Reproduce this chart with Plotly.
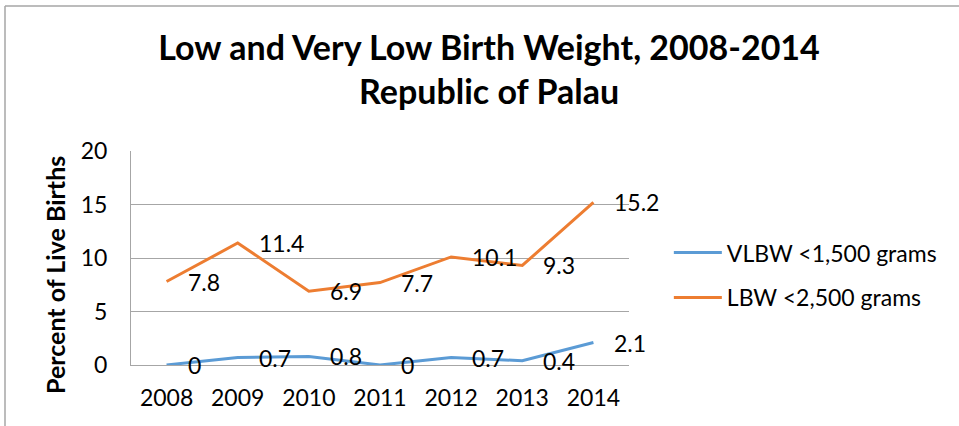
import plotly.graph_objects as go

years = ["2008", "2009", "2010", "2011", "2012", "2013", "2014"]
vlbw = [0, 0.7, 0.8, 0, 0.7, 0.4, 2.1]
lbw = [7.8, 11.4, 6.9, 7.7, 10.1, 9.3, 15.2]
series_names = ["VLBW <1,500 grams", "LBW <2,500 grams"]
colors = ["#5B9BD5", "#ED7D31"]
y_ticks = [0, 5, 10, 15, 20]

FONT = "Lato, 'Open Sans', sans-serif"

fig = go.Figure()
for name, vals, col, grp in zip(series_names, [vlbw, lbw], colors, ["a", "b"]):
    fig.add_trace(go.Scatter(x=years, y=vals, name=name, mode="lines",
                             line=dict(color=col, width=3), legendgroup=grp))

annotations = []
for vals in [vlbw, lbw]:
    for i, v in enumerate(vals):
        annotations.append(dict(x=i, y=v, xref="x", yref="y", text=f"{v:g}",
                                showarrow=False, xanchor="left", yanchor="middle",
                                xshift=19, font=dict(size=23, color="#000000", family=FONT)))

annotations.append(dict(x=-0.153, y=0.42, xref="paper", yref="paper",
                        text="<b>Percent of Live Births</b>", textangle=-90, showarrow=False,
                        xanchor="center", yanchor="middle",
                        font=dict(size=25, color="#000000", family=FONT)))

fig.update_layout(
    width=959, height=426,
    margin=dict(l=131, r=330, t=151, b=61),
    paper_bgcolor="white", plot_bgcolor="white",
    font=dict(family=FONT, size=23, color="#000000"),
    title=dict(text="<b>Low and Very Low Birth Weight, 2008-2014<br>Republic of Palau</b>",
               x=0.51, xref="container", xanchor="center", y=0.86, yanchor="middle",
               font=dict(size=34, family=FONT, color="#000000")),
    showlegend=True,
    legend=dict(x=1.08, y=0.42, xanchor="left", yanchor="middle", itemwidth=48,
                font=dict(size=23, family=FONT), tracegroupgap=12,
                traceorder="grouped", bgcolor="rgba(0,0,0,0)"),
    annotations=annotations,
    shapes=[
        dict(type="line", xref="paper", yref="paper", x0=-0.253, x1=1.67, y0=1.678, y1=1.678,
             line=dict(color="#A6A6A6", width=1.5)),
        dict(type="line", xref="paper", yref="paper", x0=-0.253, x1=-0.253, y0=1.678, y1=-0.3,
             line=dict(color="#A6A6A6", width=1.5)),
    ],
)
fig.update_xaxes(type="category", range=[-0.5, 6.5], showgrid=False, showline=True,
                 linecolor="#A6A6A6", linewidth=1, ticks="", tickfont=dict(size=23),
                 ticklabelstandoff=12)
fig.update_yaxes(range=[0, 20], tickvals=y_ticks, showgrid=True, gridcolor="#A6A6A6",
                 gridwidth=1, showline=True, linecolor="#A6A6A6", linewidth=1, ticks="",
                 zeroline=False, tickfont=dict(size=23), ticklabelstandoff=18)

fig.write_html("out.html", config={"displayModeBar": False},
               post_script="document.body.style.margin='0';")
